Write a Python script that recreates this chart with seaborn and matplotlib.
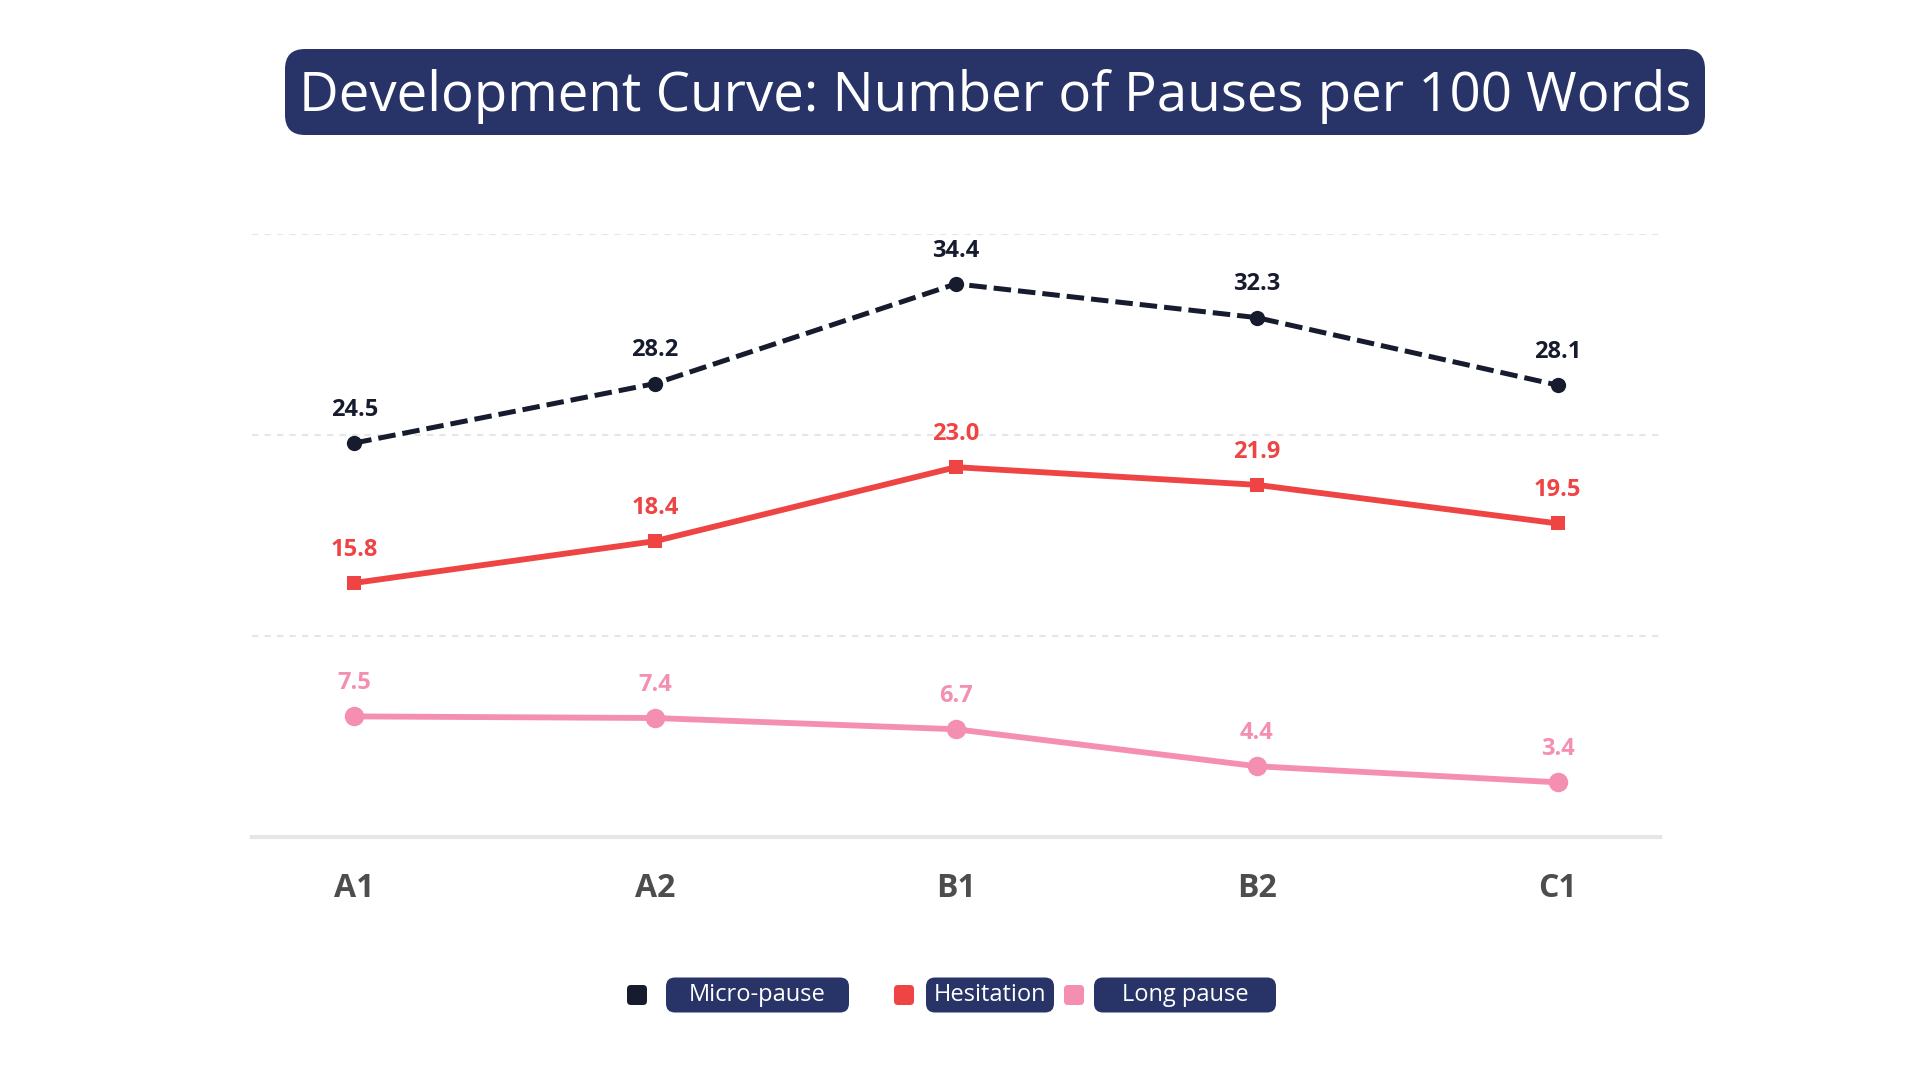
import matplotlib
matplotlib.use("Agg")
import matplotlib.pyplot as plt
from matplotlib.patches import FancyBboxPatch
from matplotlib.transforms import IdentityTransform
import seaborn as sns
import pandas as pd

levels = ["A1", "A2", "B1", "B2", "C1"]
micro_pause = [24.5, 28.2, 34.4, 32.3, 28.1]
hesitation = [15.8, 18.4, 23.0, 21.9, 19.5]
long_pause = [7.5, 7.4, 6.7, 4.4, 3.4]
series_names = ["Micro-pause", "Hesitation", "Long pause"]
title = "Development Curve: Number of Pauses per 100 Words"

NAVY = "#283468"
colors = {"Micro-pause": "#161b2e", "Hesitation": "#ef4444", "Long pause": "#f48fb1"}
styles = {
    "Micro-pause": dict(marker="o", ms=11, lw=3.6, dashes=(3.5, 1.4)),
    "Hesitation": dict(marker="s", ms=10, lw=4.2, dashes=None),
    "Long pause": dict(marker="o", ms=14, lw=4.2, dashes=None),
}

sns.set_theme(style="white")
plt.rcParams["font.family"] = ["Open Sans", "DejaVu Sans"]

W, H = 1920, 1080
fig = plt.figure(figsize=(19.2, 10.8), dpi=100)
ax_l, ax_r, ax_t, ax_b = 252, 1660, 234, 837  # pixel coords, top-origin
ax = fig.add_axes([ax_l / W, (H - ax_b) / H, (ax_r - ax_l) / W, (ax_b - ax_t) / H])

data = {"Micro-pause": micro_pause, "Hesitation": hesitation, "Long pause": long_pause}
for name in series_names:
    df = pd.DataFrame({"level": levels, "value": data[name]})
    st = styles[name]
    kw = dict(color=colors[name], marker=st["marker"], markersize=st["ms"],
              linewidth=st["lw"], markeredgewidth=0)
    sns.lineplot(data=df, x="level", y="value", ax=ax, sort=False, **kw)
    line = ax.get_lines()[-1]
    if st["dashes"] is not None:
        line.set_dashes(st["dashes"])
    for x, v in zip(levels, data[name]):
        ax.annotate(f"{v:.1f}", xy=(levels.index(x), v), xytext=(0, 24),
                    textcoords="offset points", ha="center", va="center",
                    fontsize=17, fontweight="bold", color=colors[name])

ax.set_xlim(-0.34, 4.34)
ax.set_ylim(0, 37.5)
ax.set_yticks([12.5, 25, 37.5])
ax.set_yticklabels([])
ax.yaxis.grid(True, color="#e6e6e6", linestyle=(0, (3, 3)), linewidth=1.5)
ax.xaxis.grid(False)
for s in ["top", "right", "left"]:
    ax.spines[s].set_visible(False)
ax.spines["bottom"].set_color("#e6e6e6")
ax.spines["bottom"].set_linewidth(3)
ax.tick_params(axis="x", length=0, pad=25.5, labelsize=23, labelcolor="#4d4d4d")
ax.tick_params(axis="y", length=0)
for lbl in ax.get_xticklabels():
    lbl.set_fontweight("bold")
ax.set_xlabel("")
ax.set_ylabel("")

# Title box (pixel coordinates, origin bottom-left)
fig.add_artist(FancyBboxPatch((285, 945), 1420, 86,
                              boxstyle="round,pad=0,rounding_size=20",
                              facecolor=NAVY, edgecolor="none",
                              transform=IdentityTransform()))
fig.text(995 / W, 983 / H, title, ha="center", va="center",
         fontsize=39.3, color="white")

# Legend
leg = [("Micro-pause", 637, 666, 849), ("Hesitation", 904, 926, 1054),
       ("Long pause", 1074, 1094, 1276)]
yc = 85
for name, mx, bx0, bx1 in leg:
    fig.add_artist(FancyBboxPatch((mx - 10, yc - 10), 20, 20,
                                  boxstyle="round,pad=0,rounding_size=4",
                                  facecolor=colors[name], edgecolor="none",
                                  transform=IdentityTransform()))
    fig.add_artist(FancyBboxPatch((bx0, yc - 17.5), bx1 - bx0, 35,
                                  boxstyle="round,pad=0,rounding_size=9",
                                  facecolor=NAVY, edgecolor="none",
                                  transform=IdentityTransform()))
    fig.text((bx0 + bx1) / 2 / W, yc / H, name, ha="center", va="center",
             fontsize=17, color="white")

fig.savefig("out.png", dpi=100, facecolor="white")
